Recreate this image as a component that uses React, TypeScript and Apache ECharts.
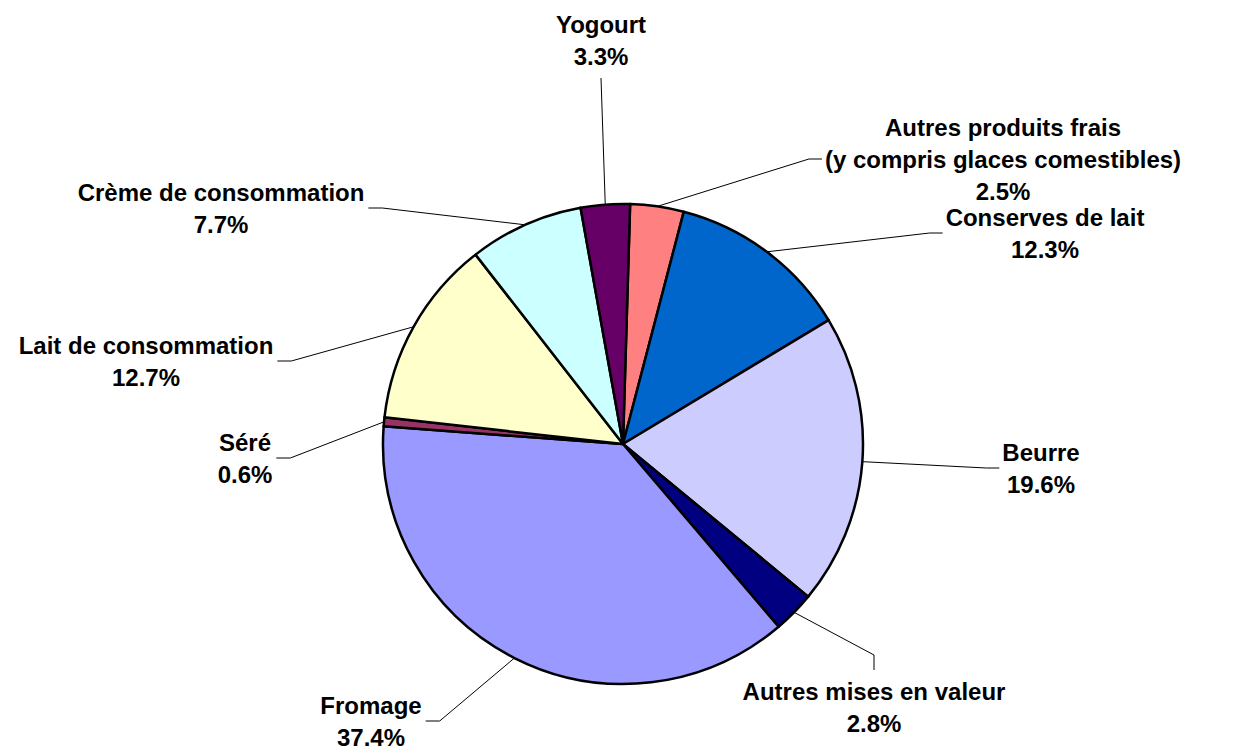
import React, { useEffect, useRef } from "react";
import * as echarts from "echarts";

// ---- Data ----
const categories = [
  "Autres produits frais\n(y compris glaces comestibles)",
  "Conserves de lait",
  "Beurre",
  "Autres mises en valeur",
  "Fromage",
  "Séré",
  "Lait de consommation",
  "Crème de consommation",
  "Yogourt",
];
const sliceValues = [3.6, 12.3, 19.6, 2.8, 37.4, 0.6, 12.7, 7.7, 3.3];
// percentage texts printed on the chart
const percentLabels = ["2.5%", "12.3%", "19.6%", "2.8%", "37.4%", "0.6%", "12.7%", "7.7%", "3.3%"];

// ---- Styles / layout (kept apart from data) ----
const sliceColors = ["#FF8080", "#0066CC", "#CCCCFF", "#000080", "#9999FF", "#993366", "#FFFFCC", "#CCFFFF", "#660066"];
const labelPlacement = [
  { x: 1003, y: 159, side: "right" },
  { x: 1045, y: 233, side: "right" },
  { x: 1041, y: 468, side: "right" },
  { x: 874, y: 707, side: "below" },
  { x: 371, y: 721, side: "left" },
  { x: 245, y: 458, side: "left" },
  { x: 146, y: 361, side: "left" },
  { x: 221, y: 208, side: "left" },
  { x: 601, y: 40, side: "above" },
];
const CENTER = [623, 444];
const RADIUS = 240;

export default function App() {
  const ref = useRef<HTMLDivElement>(null);

  useEffect(() => {
    if (!ref.current) return;
    const chart = echarts.init(ref.current, null, { renderer: "svg" });
    const option = {
      animation: false,
      backgroundColor: "#ffffff",
      series: [
        {
          type: "pie",
          center: CENTER,
          radius: RADIUS,
          startAngle: 88.3,
          clockwise: true,
          avoidLabelOverlap: false,
          emphasis: { disabled: true },
          itemStyle: { borderColor: "#000000", borderWidth: 2.5 },
          label: {
            show: true,
            position: "outside",
            color: "#000000",
            fontFamily: "'Liberation Sans', Arial, sans-serif",
            fontWeight: "bold",
            fontSize: 24,
            lineHeight: 32,
            align: "center",
            formatter: (p: any) => `${p.name}\n${percentLabels[p.dataIndex]}`,
          },
          labelLine: {
            show: true,
            length: 20,
            length2: 10,
            smooth: false,
            lineStyle: { color: "#000000", width: 1 },
          },
          labelLayout: (p: any) => {
            const i = p.dataIndex;
            const a = labelPlacement[i];
            const w = p.labelRect.width;
            const h = p.labelRect.height;
            const s =
              p.labelLinePoints && p.labelLinePoints[0]
                ? p.labelLinePoints[0]
                : CENTER;
            let pts: number[][];
            if (a.side === "right") {
              const ex = a.x - w / 2 - 3;
              pts = [s, [ex - 13, a.y], [ex, a.y]];
            } else if (a.side === "left") {
              const ex = a.x + w / 2 + 4;
              pts = [s, [ex + 14, a.y], [ex, a.y]];
            } else if (a.side === "below") {
              const ey = a.y - h / 2 - 5;
              pts = [s, [a.x, ey - 15], [a.x, ey]];
            } else {
              const ey = a.y + h / 2 + 6;
              pts = [s, [a.x, ey]];
            }
            return {
              x: a.x,
              y: a.y,
              align: "center",
              verticalAlign: "middle",
              labelLinePoints: pts,
            };
          },
          data: categories.map((name, i) => ({
            name,
            value: sliceValues[i],
            itemStyle: { color: sliceColors[i] },
          })),
        },
      ],
    };
    chart.setOption(option as any);
    return () => chart.dispose();
  }, []);

  return (
    <div
      ref={ref}
      style={{ position: "absolute", left: 0, top: 0, width: 1245, height: 750 }}
    />
  );
}
